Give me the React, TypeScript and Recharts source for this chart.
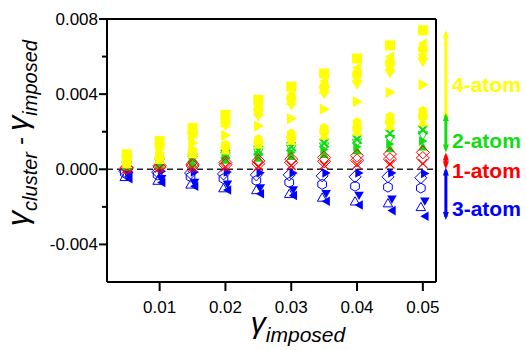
import React from 'react';
import { ScatterChart, Scatter, XAxis, YAxis, ReferenceLine } from 'recharts';

// imposed strain (x) for every column of markers
const imposed = [0.005, 0.01, 0.015, 0.02, 0.025, 0.03, 0.035, 0.04, 0.045, 0.05];

// 4-atom clusters (yellow)
const yellowSquare = [0.0008, 0.0015, 0.0022, 0.0029, 0.0037, 0.0044, 0.0051, 0.0059, 0.0066, 0.0074];
const yellowLeft = [0.0007, 0.0013, 0.002, 0.0027, 0.0034, 0.004, 0.0047, 0.0054, 0.006, 0.0067];
const yellowCircle = [0.0007, 0.0013, 0.0019, 0.0025, 0.0032, 0.0038, 0.0044, 0.0051, 0.0057, 0.0064];
const yellowStar = [0.0006, 0.0012, 0.0018, 0.0024, 0.003, 0.0036, 0.0042, 0.0048, 0.0054, 0.006];
const yellowDown = [0.0006, 0.0011, 0.0017, 0.0023, 0.0028, 0.0034, 0.004, 0.0045, 0.0051, 0.0057];
const yellowRight = [0.0005, 0.0009, 0.0014, 0.0018, 0.0023, 0.0027, 0.0032, 0.0036, 0.0041, 0.0045];
const yellowHex = [0.0004, 0.0007, 0.001, 0.0013, 0.0016, 0.0019, 0.0022, 0.0025, 0.0028, 0.0031];
const yellowCircle2 = [0.0003, 0.0006, 0.0009, 0.0012, 0.0014, 0.0017, 0.002, 0.0022, 0.0025, 0.0028];
const yellowUp = [0.0003, 0.0005, 0.0008, 0.001, 0.0013, 0.0015, 0.0018, 0.002, 0.0023, 0.0025];

// 2-atom clusters (green)
const greenCross = [0.0002, 0.0004, 0.0006, 0.0008, 0.001, 0.0012, 0.0014, 0.0016, 0.0019, 0.0021];
const greenDown = [0.00018, 0.00035, 0.0005, 0.0007, 0.0009, 0.0011, 0.0012, 0.0014, 0.0016, 0.0018];
const greenRight = [0.00015, 0.0003, 0.00045, 0.0006, 0.00075, 0.0009, 0.00105, 0.0012, 0.00135, 0.0015];
const greenUp = [0.0001, 0.0002, 0.0003, 0.0005, 0.0006, 0.0007, 0.0008, 0.001, 0.0011, 0.0012];

// 1-atom clusters (red)
const redDiamond = [0.0001, 0.0002, 0.00027, 0.00036, 0.00045, 0.00054, 0.00063, 0.00072, 0.00081, 0.0009];
const redDiamond2 = [0.00006, 0.00012, 0.00018, 0.00024, 0.0003, 0.00036, 0.00042, 0.00048, 0.00054, 0.0006];
const redCross = [0.00003, 0.00006, 0.0001, 0.00013, 0.00016, 0.0002, 0.00022, 0.00025, 0.00028, 0.0003];

// 3-atom clusters (blue)
const blueRight = [-0.0001, -0.0001, -0.00015, -0.00015, -0.00018, -0.0002, -0.0002, -0.0002, -0.0002, -0.00022];
const blueDiamond = [-0.0001, -0.00015, -0.0002, -0.00025, -0.0003, -0.0003, -0.00035, -0.0004, -0.0004, -0.00045];
const blueHex = [-0.0002, -0.0003, -0.0004, -0.0005, -0.0006, -0.0007, -0.0008, -0.0009, -0.00095, -0.001];
const blueDown = [-0.00035, -0.0005, -0.0007, -0.0008, -0.001, -0.0011, -0.0013, -0.0014, -0.0016, -0.0017];
const blueUp = [-0.0004, -0.0006, -0.0008, -0.001, -0.0011, -0.0013, -0.0015, -0.0017, -0.0018, -0.002];
const blueLeft = [-0.0005, -0.0007, -0.0009, -0.0011, -0.0013, -0.0014, -0.0017, -0.0019, -0.0022, -0.0025];

const xTicks = [0.005, 0.01, 0.015, 0.02, 0.025, 0.03, 0.035, 0.04, 0.045, 0.05];
const yTicks = [-0.004, -0.002, 0, 0.002, 0.004, 0.006, 0.008];

// range arrows on the right: [top, bottom, colour, label]
const ranges: [number, number, string, string][] = [
  [0.0074, 0.0025, '#ffff00', '4-atom'],
  [0.003, 0.0009, '#11dd11', '2-atom'],
  [0.0009, 0.0, '#ff0000', '1-atom'],
  [0.0001, -0.0027, '#0000ff', '3-atom'],
];
const arrowX = 0.0535;

const YELLOW = '#ffff00';
const GREEN = '#11dd11';
const RED = '#ff0000';
const BLUE = '#0000ff';

type Kind = 'square' | 'circle' | 'up' | 'down' | 'left' | 'right' | 'diamond' | 'hex' | 'star' | 'cross';

// dx: small sideways nudge of the marker in pixels (open ones sit a bit left)
const series: { key: string; values: number[]; color: string; kind: Kind; open?: boolean; r: number; dx?: number }[] = [
  { key: 'bL', values: blueLeft, color: BLUE, kind: 'left', r: 4.5, dx: 2 },
  { key: 'bU', values: blueUp, color: BLUE, kind: 'up', open: true, r: 4.5, dx: -2 },
  { key: 'bD', values: blueDown, color: BLUE, kind: 'down', r: 4.5, dx: 2 },
  { key: 'bH', values: blueHex, color: BLUE, kind: 'hex', open: true, r: 5, dx: -2 },
  { key: 'bDi', values: blueDiamond, color: BLUE, kind: 'diamond', open: true, r: 5, dx: -2 },
  { key: 'bR', values: blueRight, color: BLUE, kind: 'right', r: 4.5, dx: 2 },
  { key: 'gU', values: greenUp, color: GREEN, kind: 'up', r: 4.5 },
  { key: 'gR', values: greenRight, color: GREEN, kind: 'right', r: 4.5 },
  { key: 'gD', values: greenDown, color: GREEN, kind: 'down', open: true, r: 4.5 },
  { key: 'gX', values: greenCross, color: GREEN, kind: 'cross', r: 4.5 },
  { key: 'rC', values: redCross, color: RED, kind: 'cross', open: true, r: 4.5 },
  { key: 'rD2', values: redDiamond2, color: RED, kind: 'diamond', open: true, r: 5.5 },
  { key: 'rD', values: redDiamond, color: RED, kind: 'diamond', open: true, r: 5.5 },
  { key: 'yU', values: yellowUp, color: YELLOW, kind: 'up', r: 5 },
  { key: 'yC2', values: yellowCircle2, color: YELLOW, kind: 'circle', r: 5 },
  { key: 'yH', values: yellowHex, color: YELLOW, kind: 'hex', r: 5 },
  { key: 'yR', values: yellowRight, color: YELLOW, kind: 'right', r: 5.5 },
  { key: 'yD', values: yellowDown, color: YELLOW, kind: 'down', r: 5 },
  { key: 'yS', values: yellowStar, color: YELLOW, kind: 'star', r: 5.5 },
  { key: 'yC', values: yellowCircle, color: YELLOW, kind: 'circle', r: 5 },
  { key: 'yL', values: yellowLeft, color: YELLOW, kind: 'left', r: 5 },
  { key: 'ySq', values: yellowSquare, color: YELLOW, kind: 'square', r: 5 },
];

function poly(cx: number, cy: number, r: number, n: number, rot: number) {
  const pts: string[] = [];
  for (let i = 0; i < n; i++) {
    const a = rot + (i * 2 * Math.PI) / n;
    pts.push(`${cx + r * Math.cos(a)},${cy + r * Math.sin(a)}`);
  }
  return pts.join(' ');
}

function Marker({ cx, cy, kind, color, open, r }: any) {
  if (cx == null || cy == null) return null;
  const fill = open ? 'none' : color;
  const sw = open ? 1 : 0;
  const st = open ? color : 'none';
  switch (kind) {
    case 'square':
      return <rect x={cx - r} y={cy - r} width={2 * r} height={2 * r} fill={fill} stroke={st} strokeWidth={sw} />;
    case 'circle':
      return <circle cx={cx} cy={cy} r={r} fill={fill} stroke={st} strokeWidth={sw} />;
    case 'up':
      return <polygon points={poly(cx, cy + 1, r + 1, 3, -Math.PI / 2)} fill={fill} stroke={st} strokeWidth={sw} />;
    case 'down':
      return <polygon points={poly(cx, cy - 1, r + 1, 3, Math.PI / 2)} fill={fill} stroke={st} strokeWidth={sw} />;
    case 'left':
      return <polygon points={poly(cx + 1, cy, r + 1, 3, Math.PI)} fill={fill} stroke={st} strokeWidth={sw} />;
    case 'right':
      return <polygon points={poly(cx - 1, cy, r + 1, 3, 0)} fill={fill} stroke={st} strokeWidth={sw} />;
    case 'diamond':
      return <polygon points={poly(cx, cy, r + 1, 4, 0)} fill={fill} stroke={st} strokeWidth={sw} />;
    case 'hex':
      return <polygon points={poly(cx, cy, r, 6, Math.PI / 2)} fill={fill} stroke={st} strokeWidth={sw} />;
    case 'star': {
      const pts: string[] = [];
      for (let i = 0; i < 12; i++) {
        const a = -Math.PI / 2 + (i * Math.PI) / 6;
        const rr = i % 2 === 0 ? r + 1 : r * 0.6;
        pts.push(`${cx + rr * Math.cos(a)},${cy + rr * Math.sin(a)}`);
      }
      return <polygon points={pts.join(' ')} fill={fill} stroke={st} strokeWidth={sw} />;
    }
    case 'cross':
      return (
        <g stroke={color} strokeWidth={open ? 1.2 : 2.2}>
          <line x1={cx - r} y1={cy - r} x2={cx + r} y2={cy + r} />
          <line x1={cx - r} y1={cy + r} x2={cx + r} y2={cy - r} />
        </g>
      );
    default:
      return null;
  }
}

function YTick({ x, y, payload }: any) {
  const v = payload.value;
  const major = Math.abs(Math.round(v * 1000)) % 4 === 0;
  return (
    <g>
      <line x1={x - (major ? 8 : 5)} x2={x} y1={y} y2={y} stroke="#000" strokeWidth={2} />
      {major && (
        <text x={x - 9} y={y} dy={6} textAnchor="end" fontSize={17} fontFamily="Arial, Liberation Sans" fill="#000">
          {v.toFixed(3)}
        </text>
      )}
    </g>
  );
}

function XTick({ x, y, payload }: any) {
  const v = payload.value;
  const major = Math.round(v * 1000) % 10 === 0;
  return (
    <g>
      <line x1={x} x2={x} y1={y} y2={y + (major ? 9 : 5)} stroke="#000" strokeWidth={2} />
      {major && (
        <text x={x} y={y + 31} textAnchor="middle" fontSize={17} fontFamily="Arial, Liberation Sans" fill="#000">
          {v.toFixed(2)}
        </text>
      )}
    </g>
  );
}

function Arrow({ x1, y1, y2, color }: any) {
  const top = Math.min(y1, y2);
  const bot = Math.max(y1, y2);
  const x = x1;
  return (
    <g>
      <line x1={x} x2={x} y1={top + 3} y2={bot - 3} stroke={color} strokeWidth={3} />
      <polygon points={`${x},${top} ${x - 3},${top + 8} ${x + 3},${top + 8}`} fill={color} />
      <polygon points={`${x},${bot} ${x - 3},${bot - 8} ${x + 3},${bot - 8}`} fill={color} />
    </g>
  );
}

const labelY: Record<string, number> = { '4-atom': 85, '2-atom': 141, '1-atom': 171, '3-atom': 209 };

export default function App() {
  return (
    <div style={{ position: 'absolute', left: 0, top: 0, width: 526, height: 350, background: '#fff' }}>
      <ScatterChart width={526} height={350} margin={{ top: 19, right: 90, bottom: 38, left: 47 }}>
        <XAxis
          type="number"
          dataKey="x"
          domain={[0.002, 0.052]}
          ticks={xTicks}
          tick={<XTick />}
          tickLine={false}
          tickSize={0}
          tickMargin={0}
          height={30}
          axisLine={{ stroke: '#000', strokeWidth: 2 }}
          allowDataOverflow
        />
        <YAxis
          type="number"
          dataKey="y"
          domain={[-0.006, 0.008]}
          ticks={yTicks}
          tick={<YTick />}
          tickLine={false}
          tickSize={0}
          tickMargin={0}
          width={60}
          axisLine={{ stroke: '#000', strokeWidth: 2 }}
          allowDataOverflow
        />
        <ReferenceLine y={0.008} stroke="#000" strokeWidth={2} />
        <ReferenceLine x={0.052} stroke="#000" strokeWidth={2} />
        <ReferenceLine y={0} stroke="#222" strokeWidth={1.5} strokeDasharray="6 4" />
        {series.map((s) => (
          <Scatter
            key={s.key}
            data={imposed.map((x, i) => ({ x, y: s.values[i] }))}
            isAnimationActive={false}
            shape={(p: any) => (
              <Marker cx={p.cx + (s.dx ?? 0)} cy={p.cy} kind={s.kind} color={s.color} open={s.open} r={s.r} />
            )}
          />
        ))}
        {ranges.map(([a, b, c, lab]) => (
          <ReferenceLine
            key={lab}
            segment={[{ x: arrowX, y: a }, { x: arrowX, y: b }]}
            ifOverflow="visible"
            shape={(p: any) => <Arrow {...p} color={c} />}
          />
        ))}
      </ScatterChart>
      <svg width={526} height={350} style={{ position: 'absolute', left: 0, top: 0, pointerEvents: 'none' }}>
        <text
          transform="translate(28,133) rotate(-90)"
          textAnchor="middle"
          fontFamily="Arial, Liberation Sans"
          fontStyle="italic"
          fill="#000"
        >
          <tspan fontSize={30}>γ</tspan>
          <tspan fontSize={20} dy={9}>cluster</tspan>
          <tspan fontSize={24} dy={-9}> - </tspan>
          <tspan fontSize={30}>γ</tspan>
          <tspan fontSize={20} dy={9}>imposed</tspan>
        </text>
        <text x={298} y={333} textAnchor="middle" fontFamily="Arial, Liberation Sans" fontStyle="italic" fill="#000">
          <tspan fontSize={30}>γ</tspan>
          <tspan fontSize={21} dy={9}>imposed</tspan>
        </text>
        {ranges.map(([, , c, lab]) => (
          <text
            key={lab}
            x={452}
            y={labelY[lab] + 7}
            fontSize={21}
            fontWeight="bold"
            fontFamily="Arial, Liberation Sans"
            fill={c}
          >
            {lab}
          </text>
        ))}
      </svg>
    </div>
  );
}
